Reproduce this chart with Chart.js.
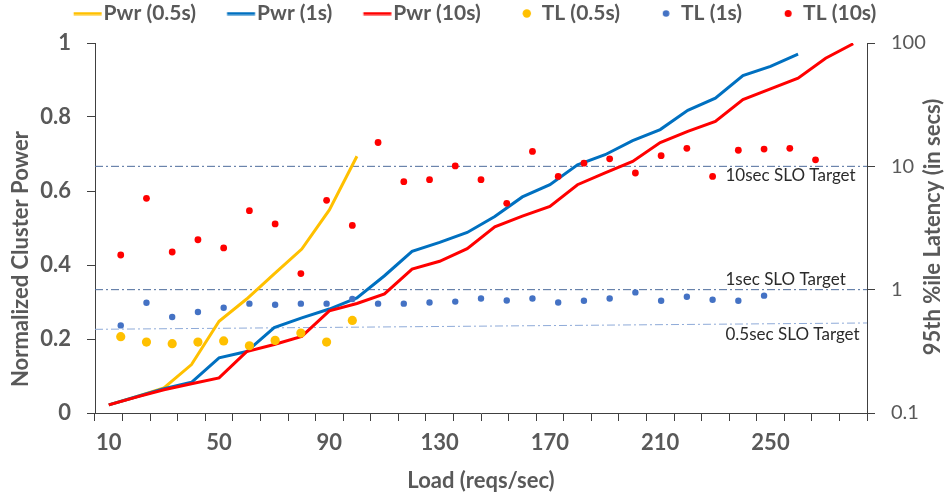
<!DOCTYPE html>
<html>
<head>
<meta charset="utf-8">
<script src="https://cdn.jsdelivr.net/npm/chart.js@4.4.1/dist/chart.umd.min.js"></script>
<style>
html,body{margin:0;padding:0;background:#ffffff;overflow:hidden;}
canvas{display:block;}
</style>
</head>
<body>
<canvas id="chart" width="948" height="495"></canvas>
<script>
// ---------------- data ----------------
const loads = [10,20,30,40,50,60,70,80,90,100,110,120,130,140,150,160,170,180,190,200,210,220,230,240,250,260,270,280];
const xTickLabels = ['10','50','90','130','170','210','250'];
const leftTickValues = [0, 0.2, 0.4, 0.6, 0.8, 1];
const leftTickLabels = ['0', '0.2', '0.4', '0.6', '0.8', '1'];
const rightTickValues = [0.1, 1, 10, 100];
const rightTickLabels = ['0.1', '1', '10', '100'];
const seriesNames = ['Pwr (0.5s)', 'Pwr (1s)', 'Pwr (10s)', 'TL (0.5s)', 'TL (1s)', 'TL (10s)'];

const pwr05 = [0.022,0.044,0.068,0.131,0.248,0.308,0.376,0.443,0.549,0.694];
const pwr1  = [0.022,0.044,0.066,0.083,0.149,0.166,0.231,0.257,0.281,0.311,0.371,0.437,0.461,0.488,0.531,0.584,0.617,0.671,0.698,0.736,0.766,0.818,0.851,0.912,0.937,0.970];
const pwr10 = [0.022,0.043,0.063,0.079,0.095,0.166,0.185,0.207,0.276,0.296,0.322,0.389,0.410,0.444,0.503,0.532,0.558,0.617,0.649,0.680,0.731,0.761,0.788,0.847,0.876,0.905,0.959,0.998];

const tl05 = [0.416,0.376,0.365,0.376,0.384,0.351,0.388,0.445,0.376,0.563];
const tl1  = [0.513,0.784,0.600,0.659,0.714,0.770,0.755,0.770,0.770,0.840,0.770,0.770,0.786,0.800,0.847,0.816,0.849,0.786,0.814,0.849,0.950,0.814,0.877,0.829,0.814,0.894];
const tl10 = [1.91,5.50,2.02,2.54,2.18,4.37,3.41,1.35,5.30,3.32,15.6,7.51,7.79,10.07,7.79,5.01,13.2,8.29,10.6,11.5,8.83,12.2,14.0,8.29,13.5,13.8,14.0,11.3];

const sloNames = ['10sec SLO Target', '1sec SLO Target', '0.5sec SLO Target'];
const sloStartValue = [10, 1, 0.477];
const sloEndValue = [10, 1, 0.537];
const sloTextValue = [8.45, 1.205, 0.431];

const xTitle = 'Load (reqs/sec)';
const yTitle = 'Normalized Cluster Power';
const y2Title = '95th %ile Latency (in secs)';

// ---------------- styles ----------------
const FONT = 'Lato';
const TXT = '#595959';
const AX = '#404040';
const lineColors = ['#FFC000', '#0070C0', '#FF0000'];
const dotColors = ['#FFC000', '#4472C4', '#FF0000'];
const dotRadius = [4.6, 3.2, 3.4];
const sloColors = ['#4d6b9c', '#4d6b9c', '#8eaad8'];
const LEFTPAD = -26;
const BOXW = 47.5;

Chart.defaults.font.family = FONT;

// legend marker images
function lineImg(color) {
  const d = BOXW / 2 - 5.5;
  const W = Math.ceil(2 * (d + 14) + 2);
  const c = document.createElement('canvas');
  c.width = W; c.height = 4;
  const g = c.getContext('2d');
  g.fillStyle = color;
  g.fillRect(W / 2 + d - 14, 0.5, 28, 3);
  return c;
}
function dotImg(color, r) {
  const d = BOXW / 2 - 4.5;
  const W = Math.ceil(2 * (d + r) + 2);
  const H = Math.ceil(2 * r + 2);
  const c = document.createElement('canvas');
  c.width = W; c.height = H;
  const g = c.getContext('2d');
  g.fillStyle = color;
  g.beginPath();
  g.arc(W / 2 + d, H / 2, r, 0, Math.PI * 2);
  g.fill();
  return c;
}
const legendImgs = [
  lineImg(lineColors[0]), lineImg(lineColors[1]), lineImg(lineColors[2]),
  dotImg(dotColors[0], 4.2), dotImg(dotColors[1], 3.3), dotImg(dotColors[2], 3.5)
];

function lineDs(i, data, order) {
  return {
    type: 'line', label: seriesNames[i], data: data,
    borderColor: lineColors[i], backgroundColor: lineColors[i],
    borderWidth: 3, pointRadius: 0, pointHoverRadius: 0, tension: 0, fill: false,
    xAxisID: 'x', yAxisID: 'y', order: order
  };
}
function dotDs(i, vals) {
  return {
    type: 'scatter', label: seriesNames[i + 3],
    data: vals.map((v, k) => ({ x: loads[k], y: v })),
    backgroundColor: dotColors[i], borderColor: dotColors[i], borderWidth: 0,
    pointRadius: dotRadius[i], pointHoverRadius: dotRadius[i],
    xAxisID: 'x2', yAxisID: 'y2', order: 0
  };
}
function sloDs(i) {
  return {
    type: 'line', label: sloNames[i],
    data: [{ x: 0, y: sloStartValue[i] }, { x: 300, y: sloEndValue[i] }],
    borderColor: sloColors[i], borderWidth: 1, borderDash: [8, 3, 2, 3],
    pointRadius: 0, pointHoverRadius: 0, fill: false,
    xAxisID: 'x2', yAxisID: 'y2', order: 10
  };
}

const overlay = {
  id: 'overlay',
  afterDatasetsDraw(chart) {
    const ctx = chart.ctx;
    const x2 = chart.scales.x2, y2 = chart.scales.y2;
    ctx.save();
    ctx.font = '17px ' + FONT;
    ctx.fillStyle = '#2b2b2b';
    ctx.textAlign = 'left';
    ctx.textBaseline = 'middle';
    for (let i = 0; i < sloNames.length; i++) {
      ctx.fillText(sloNames[i], x2.getPixelForValue(245), y2.getPixelForValue(sloTextValue[i]));
    }
    ctx.restore();
  },
  afterDraw(chart) {
    const ctx = chart.ctx;
    const a = chart.chartArea;
    ctx.save();
    ctx.font = 'bold 22px ' + FONT;
    ctx.fillStyle = TXT;
    ctx.textAlign = 'center';
    ctx.textBaseline = 'middle';
    ctx.translate(21, (a.top + a.bottom) / 2 + 31);
    ctx.rotate(-Math.PI / 2);
    ctx.fillText(yTitle, 0, 0);
    ctx.restore();
    ctx.save();
    ctx.font = 'bold 22px ' + FONT;
    ctx.fillStyle = TXT;
    ctx.textAlign = 'center';
    ctx.textBaseline = 'middle';
    ctx.translate(933, (a.top + a.bottom) / 2 - 1);
    ctx.rotate(-Math.PI / 2);
    ctx.fillText(y2Title, 0, 0);
    ctx.restore();
  }
};

new Chart(document.getElementById('chart'), {
  type: 'line',
  data: {
    labels: loads.map(String),
    datasets: [
      lineDs(0, pwr05, 3), lineDs(1, pwr1, 2), lineDs(2, pwr10, 1),
      dotDs(0, tl05), dotDs(1, tl1), dotDs(2, tl10),
      sloDs(0), sloDs(1), sloDs(2)
    ]
  },
  options: {
    responsive: false,
    animation: false,
    devicePixelRatio: 1,
    events: [],
    layout: { padding: { left: LEFTPAD, right: 0, top: 0, bottom: 0 } },
    plugins: {
      tooltip: { enabled: false },
      title: { display: true, text: '', weight: 500, position: 'top', font: { size: 1, lineHeight: 1 }, padding: { top: 0, bottom: 8 } },
      legend: {
        display: true, position: 'top', align: 'center',
        labels: {
          usePointStyle: true, pointStyleWidth: BOXW, padding: 3,
          color: TXT, font: { family: FONT, size: 21, weight: 'bold' },
          filter: (item) => item.datasetIndex < 6,
          sort: (a, b) => a.datasetIndex - b.datasetIndex,
          generateLabels: (chart) => {
            const items = Chart.defaults.plugins.legend.labels.generateLabels(chart);
            items.forEach(it => { if (it.datasetIndex < 6) it.pointStyle = legendImgs[it.datasetIndex]; });
            return items;
          }
        }
      }
    },
    scales: {
      x: {
        type: 'category', position: 'bottom', offset: true,
        grid: { offset: true, drawOnChartArea: false, drawTicks: true, tickLength: 8, color: AX },
        border: { display: true, color: AX, width: 1 },
        ticks: {
          autoSkip: false, maxRotation: 0, minRotation: 0, padding: 9, color: TXT,
          font: { family: FONT, size: 22, weight: 'bold' },
          callback: function (v) { const l = this.getLabelForValue(v); return xTickLabels.includes(l) ? l : ''; }
        },
        title: { display: true, text: xTitle, color: TXT, font: { family: FONT, size: 22, weight: 'bold', lineHeight: 1.2 }, padding: { top: 0, bottom: 1 } },
        afterFit: (s) => { s.height = 82; }
      },
      x2: { type: 'linear', position: 'bottom', min: 0, max: 300, display: false },
      y: {
        type: 'linear', position: 'left', min: 0, max: 1,
        grid: { drawOnChartArea: false, drawTicks: true, tickLength: 8, color: AX },
        border: { display: true, color: AX, width: 1 },
        afterBuildTicks: (s) => { s.ticks = leftTickValues.map(v => ({ value: v })); },
        ticks: {
          padding: 16, color: TXT, font: { family: FONT, size: 22, weight: 'bold' },
          callback: (v) => { const i = leftTickValues.indexOf(v); return i >= 0 ? leftTickLabels[i] : ''; }
        },
        afterFit: (s) => { s.width = 95 - LEFTPAD; }
      },
      y2: {
        type: 'logarithmic', position: 'right', min: 0.1, max: 100,
        grid: { drawOnChartArea: false, drawTicks: true, tickLength: 8, color: AX },
        border: { display: true, color: AX, width: 1 },
        afterBuildTicks: (s) => { s.ticks = rightTickValues.map(v => ({ value: v })); },
        ticks: {
          padding: 16, color: TXT, font: { family: FONT, size: 20 },
          callback: (v) => { const i = rightTickValues.indexOf(v); return i >= 0 ? rightTickLabels[i] : ''; }
        },
        afterFit: (s) => { s.width = 81; }
      }
    }
  },
  plugins: [overlay]
});
</script>
</body>
</html>
